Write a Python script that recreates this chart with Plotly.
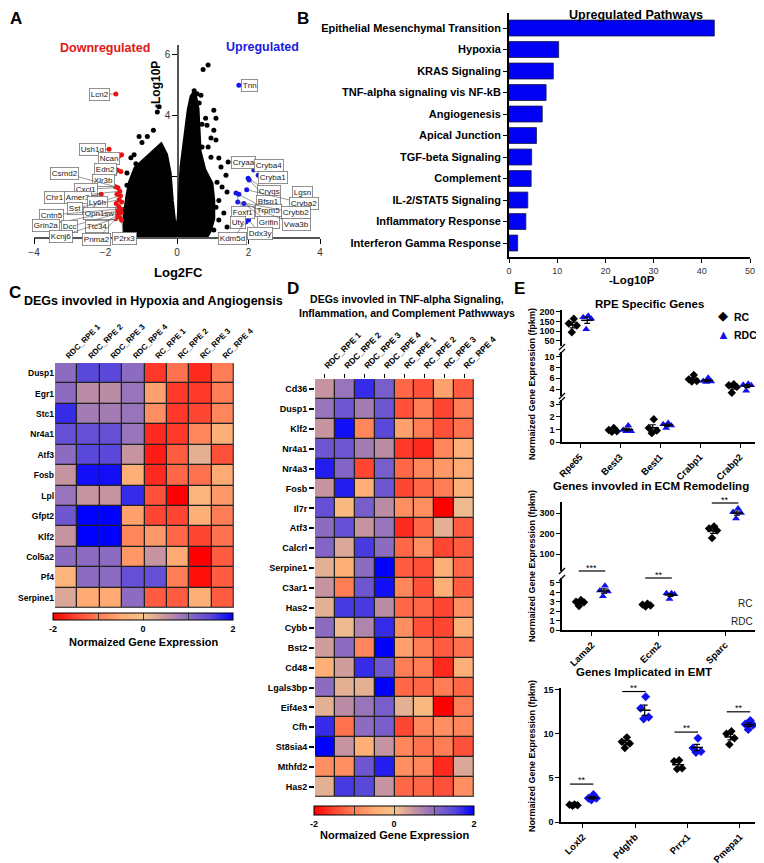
import numpy as np
import plotly.graph_objects as go

# page offset of the plot div inside the browser page (default body margin)
OFF = 8
W, H = 764 - OFF, 863 - OFF
FONT = "Liberation Sans, Arial, Helvetica, sans-serif"


def fx(p):
    return (p - OFF) / W


def fy(p):
    return 1 - (p - OFF) / H


# ---------------- Panel A : volcano ----------------
cloud_log2fc = [-1.45, -1.45, -1.38, -1.30, -1.15, -0.90, -0.60, -0.45, -0.32, -0.22, -0.16, -0.08, 0.00,
                0.06, 0.14, 0.25, 0.34, 0.42, 0.48, 0.56, 0.60, 0.62, 0.75, 0.95, 1.00, 1.00, 0.90, 0.80]
cloud_log10p = [0.00, 0.70, 1.30, 1.80, 2.25, 2.50, 2.80, 3.00, 2.70, 2.10, 1.20, 0.35, 0.15,
                0.60, 2.30, 3.40, 4.15, 4.60, 4.70, 4.20, 3.40, 2.80, 2.20, 1.75, 1.20, 0.60, 0.20, 0.00]
ns_log2fc = [-0.55, -0.50, -0.66, -0.83, -1.06, -0.98, -1.29, -1.15, -1.40, -1.40, -1.30, -1.48, -1.20,
             0.73, 0.87, 0.48, 0.56, 0.67, 0.53, 1.03, 1.09, 0.84, 1.03, 0.95, 1.09, 0.70, 0.95, 1.17,
             1.23, 1.43, 1.37, 1.12, 1.26, 1.40, 1.17, 1.09, 1.31, 1.17, 1.40, 1.03, 0.80, 0.70, 0.62, 0.87]
ns_log10p = [4.10, 4.27, 3.50, 3.30, 3.30, 3.10, 2.60, 2.40, 2.10, 1.70, 1.20, 0.90, 2.70,
             5.50, 5.64, 4.80, 4.70, 4.65, 4.43, 4.16, 3.90, 3.67, 3.50, 3.25, 3.18, 2.95, 2.62, 2.59,
             2.30, 2.46, 2.03, 1.80, 1.64, 1.48, 1.20, 0.98, 0.79, 0.56, 0.33, 0.23, 3.90, 3.70, 4.40, 2.95]
down_log2fc = [-1.71, -1.90, -1.55, -1.62, -1.67, -1.57, -2.12, -1.72, -1.65, -1.60, -1.68, -1.58,
               -1.62, -1.55, -1.70, -1.63, -1.58, -1.68, -1.56, -1.65, -1.60, -1.72, -1.55]
down_log10p = [4.69, 2.88, 2.70, 2.66, 2.20, 2.15, 1.40, 1.65, 1.62, 1.50, 1.40, 1.35,
               1.22, 1.15, 1.10, 1.00, 0.92, 0.85, 0.80, 0.72, 0.65, 0.60, 0.55]
up_log2fc = [1.73, 2.15, 2.27, 1.99, 2.02, 1.95, 3.30, 1.65, 1.73, 1.70, 1.87, 2.00, 1.93, 1.88]
up_log10p = [4.98, 2.20, 2.03, 1.93, 1.87, 1.55, 1.31, 1.44, 1.40, 1.15, 1.10, 0.56, 0.50, 0.47]

# gene label: (name, group, index of the labelled point)
vol_genes = [("Lcn2", "down", 0), ("Ush1g", "down", 1), ("Ncan", "down", 3), ("Edn2", "down", 4),
             ("Xlr3b", "down", 5), ("Csmd2", "down", 7), ("Cxcl1", "down", 8), ("Chr1", "down", 9),
             ("Amer3", "down", 6), ("Ly6h", "down", 11), ("Sst", "down", 12), ("Opn1sw", "down", 15),
             ("Cntn5", "down", 16), ("Grin2a", "down", 17), ("Dcc", "down", 18), ("Ttc34", "down", 19),
             ("Kcnj6", "down", 20), ("Pnma2", "down", 21), ("P2rx3", "down", 22),
             ("Tnn", "up", 0), ("Cryaa", "ns", 29), ("Cryba4", "up", 1), ("Cryba1", "up", 2),
             ("Crygs", "up", 3), ("Bfsp1", "up", 4), ("Lgsn", "up", 6), ("Cryba2", "up", 5),
             ("Foxf1", "up", 7), ("Trpm5", "up", 8), ("Crybb2", "up", 9), ("Grifin", "up", 10),
             ("Vwa3b", "up", 10), ("Uty", "up", 13), ("Ddx3y", "up", 11), ("Kdm5d", "up", 12)]
# where each label box sits (layout only)
vol_label_pos = [(-2.18, 4.69), (-2.37, 2.88), (-1.90, 2.56), (-2.01, 2.20), (-2.05, 1.87), (-3.16, 2.10),
                 (-2.55, 1.57), (-3.44, 1.28), (-2.77, 1.28), (-2.21, 1.14), (-2.85, 0.95), (-2.18, 0.76),
                 (-3.52, 0.72), (-3.66, 0.39), (-3.02, 0.33), (-2.24, 0.36), (-3.25, 0.03), (-2.24, -0.09),
                 (-1.48, -0.05),
                 (2.04, 4.98), (1.85, 2.46), (2.57, 2.33), (2.69, 1.94), (2.57, 1.48), (2.57, 1.18),
                 (3.50, 1.47), (3.55, 1.10), (1.85, 0.82), (2.57, 0.86), (3.33, 0.80), (2.57, 0.48),
                 (3.33, 0.40), (1.70, 0.46), (2.32, 0.13), (1.55, -0.06)]

# ---------------- Panel B : pathways ----------------
pathways = ["Epithelial Mesenchymal Transition", "Hypoxia", "KRAS Signaling", "TNF-alpha signaling vis NF-kB",
            "Angiogenesis", "Apical Junction", "TGF-beta Signaling", "Complement", "IL-2/STAT5 Signaling",
            "Inflammatory Response", "Interferon Gamma Response"]
pathway_log10p = [42.6, 10.3, 9.2, 7.7, 6.9, 5.7, 4.7, 4.6, 3.9, 3.5, 1.8]

# ---------------- Panel C : heatmap ----------------
samples = ["RDC_RPE 1", "RDC_RPE 2", "RDC_RPE 3", "RDC_RPE 4", "RC_RPE 1", "RC_RPE 2", "RC_RPE 3", "RC_RPE 4"]
c_genes = ["Dusp1", "Egr1", "Stc1", "Nr4a1", "Atf3", "Fosb", "Lpl", "Gfpt2", "Klf2", "Col5a2", "Pf4", "Serpine1"]
c_values = [
    [1.0, 1.5, 1.5, 1.0, -1.6, -1.1, -1.7, -1.0],
    [1.0, 0.6, 0.6, 0.9, -0.6, -1.6, -1.6, -1.0],
    [1.7, 0.8, 0.8, 0.9, -0.8, -1.6, -1.5, -0.9],
    [1.4, 1.4, 1.4, 0.9, -1.7, -1.6, -0.9, -0.4],
    [1.0, 1.5, 1.5, 0.5, -1.8, -1.3, 0.2, -1.4],
    [0.5, 1.9, 1.9, -0.4, -1.7, -1.2, -1.1, -0.5],
    [0.9, 0.5, 0.5, 1.7, -1.4, -2.0, -0.3, -0.7],
    [1.3, 2.0, 2.0, -0.6, -1.5, -1.5, -0.4, -1.0],
    [0.5, 2.0, 2.0, -0.9, -0.7, -1.2, -1.5, -1.1],
    [1.0, 1.0, 1.0, -0.7, 0.5, -0.5, -2.0, -1.3],
    [-0.3, 1.0, 1.0, 1.4, 1.4, -1.0, -1.9, -1.3],
    [0.3, -0.5, -0.5, 1.0, -1.3, -1.3, -0.4, -1.3],
]

# ---------------- Panel D : heatmap ----------------
d_genes = ["Cd36", "Dusp1", "Klf2", "Nr4a1", "Nr4a3", "Fosb", "Il7r", "Atf3", "Calcrl", "Serpine1", "C3ar1",
           "Has2", "Cybb", "Bst2", "Cd48", "Lgals3bp", "Eif4e3", "Cfh", "St8sia4", "Mthfd2", "Has2"]
d_values = [
    [0.5, 0.9, 1.7, 1.2, -1.2, -1.4, -0.6, -1.3],
    [0.9, 1.3, 0.8, 1.3, -1.4, -1.0, -1.5, -1.0],
    [0.5, 1.9, -0.9, 1.5, -0.6, -1.0, -1.4, -1.1],
    [1.3, 1.3, 0.8, 0.6, -1.6, -1.7, -0.9, -0.4],
    [1.8, 1.1, -1.5, 1.2, -1.2, -0.9, -0.7, -0.5],
    [0.5, 1.8, -0.4, 1.3, -1.5, -1.2, -1.0, -0.4],
    [1.4, -0.2, 1.2, 0.6, -0.8, -0.8, -2.0, 0.1],
    [1.0, 1.4, 0.5, 0.9, -1.7, -1.2, 0.2, -1.3],
    [1.1, 0.3, 1.6, 1.0, -1.2, -0.8, -1.5, -1.3],
    [0.2, -0.4, 1.0, 2.0, -1.3, -1.4, -0.4, -1.2],
    [0.5, -1.0, 1.3, 1.9, -0.9, -1.4, -0.4, -1.3],
    [0.2, 1.6, 1.6, 0.6, -1.2, -1.2, -1.5, -0.8],
    [1.0, 0.1, 0.7, 1.7, -0.8, -1.4, -1.5, -0.4],
    [0.4, 1.0, -0.9, 2.0, -0.6, -1.0, -1.3, -1.1],
    [-0.4, 0.4, 1.7, 1.3, -1.0, -1.0, -1.7, -0.4],
    [1.0, 0.2, 0.2, 2.0, -1.2, -1.2, -1.0, -1.2],
    [0.2, 0.6, 0.9, 1.2, 0.2, -0.2, -2.0, -1.0],
    [1.7, -1.1, 1.0, 1.2, -1.5, -0.9, -0.8, -0.9],
    [2.0, 0.5, -0.4, 0.5, -0.9, -1.1, -1.0, -1.4],
    [-0.8, -0.8, 1.3, 1.8, -0.8, -0.9, -1.7, 0.3],
    [0.2, 1.6, 1.5, 0.5, -1.2, -1.2, -1.4, -0.8],
]

# ---------------- Panel E : gene expression (fpkm) ----------------
e1_genes = ["Rpe65", "Best3", "Best1", "Crabp1", "Crabp2"]
e1_rc = [[165, 140, 130, 95], [1.10, 0.95, 0.85, 0.80], [1.80, 1.10, 0.90, 0.70],
         [6.60, 5.80, 5.50, 5.40], [4.90, 4.70, 4.40, 3.30]]
e1_rdc = [[180, 172, 165, 110], [1.30, 0.95, 0.85, 0.85], [1.50, 1.40, 1.30, 1.10],
          [6.10, 5.50, 5.30, 5.40], [5.00, 4.80, 4.70, 3.70]]
e2_genes = ["Lama2", "Ecm2", "Sparc"]
e2_rc = [[3.20, 3.00, 2.95, 2.55], [2.80, 2.70, 2.60, 2.50], [235, 225, 215, 178]]
e2_rdc = [[4.70, 4.20, 4.10, 3.60], [3.90, 3.90, 3.80, 3.30], [322, 305, 300, 273]]
e2_sig = ["***", "**", "**"]
e3_genes = ["Loxl2", "Pdgfrb", "Prrx1", "Pmepa1"]
e3_rc = [[2.00, 1.95, 1.90, 1.85], [9.60, 9.10, 8.90, 8.40], [7.00, 6.90, 6.10, 6.00], [10.3, 10.0, 9.5, 8.8]]
e3_rdc = [[3.10, 2.70, 2.70, 2.50], [14.2, 12.9, 11.9, 11.7], [9.50, 8.40, 8.00, 7.90], [11.5, 11.1, 11.0, 10.5]]
e3_sig = ["**", "**", "**", "**"]

# ---------------- figure ----------------
fig = go.Figure()
ann = []
shapes = []


def txt(xp, yp, text, size, color="black", bold=True, xanchor="center", yanchor="middle", angle=0):
    ann.append(dict(x=fx(xp), y=fy(yp), xref="paper", yref="paper", xanchor=xanchor, yanchor=yanchor,
                    text=("<b>%s</b>" % text) if bold else text, showarrow=False, textangle=angle,
                    font=dict(size=size, color=color, family=FONT)))


# ---- A ----
fig.add_trace(go.Scatter(x=cloud_log2fc, y=cloud_log10p, mode="lines", fill="toself", fillcolor="black",
                         line=dict(color="black", width=5), hoverinfo="skip", showlegend=False,
                         xaxis="x", yaxis="y"))
fig.add_trace(go.Scatter(x=ns_log2fc, y=ns_log10p, mode="markers", marker=dict(color="black", size=5),
                         showlegend=False, xaxis="x", yaxis="y", cliponaxis=False))
fig.add_trace(go.Scatter(x=down_log2fc, y=down_log10p, mode="markers", marker=dict(color="#ee1111", size=5),
                         showlegend=False, xaxis="x", yaxis="y", cliponaxis=False))
fig.add_trace(go.Scatter(x=up_log2fc, y=up_log10p, mode="markers", marker=dict(color="#1515ee", size=5),
                         showlegend=False, xaxis="x", yaxis="y", cliponaxis=False))
groups = {"down": (down_log2fc, down_log10p), "up": (up_log2fc, up_log10p), "ns": (ns_log2fc, ns_log10p)}
for (name, g, i), (tx, ty) in zip(vol_genes, vol_label_pos):
    gx, gy = groups[g]
    ann.append(dict(x=gx[i], y=gy[i], xref="x", yref="y", ax=tx, ay=ty, axref="x", ayref="y",
                    text=name, showarrow=True, arrowhead=0, arrowwidth=0.6, arrowcolor="#555",
                    standoff=2, font=dict(size=8, color="#222", family=FONT), bgcolor="white",
                    bordercolor="#777", borderwidth=0.8, borderpad=1))

txt(105, 48, "Downregulated", 12.5, "#e01818")
txt(262, 47, "Upregulated", 12.5, "#1a1ae0")
txt(156, 85, "-Log10P", 12, angle=-90)
txt(178, 272, "Log2FC", 13)

# ---- B ----
fig.add_trace(go.Bar(x=pathway_log10p, y=list(range(len(pathways))), orientation="h", width=0.74,
                     marker=dict(color="#0000f5", line=dict(color="#1a1a40", width=0.8)),
                     showlegend=False, xaxis="x2", yaxis="y2"))
txt(636, 15, "Upregulated Pathways", 12.5)
txt(632, 280, "-Log10P", 11.5)

# ---- heatmap colours ----
cscale = [[0.0, "rgb(255,0,0)"], [0.125, "rgb(255,70,50)"], [0.25, "rgb(255,125,85)"],
          [0.375, "rgb(255,170,115)"], [0.5, "rgb(248,195,140)"], [0.625, "rgb(198,148,160)"],
          [0.75, "rgb(140,108,192)"], [0.875, "rgb(90,72,218)"], [1.0, "rgb(0,0,255)"]]


def heat(zv, genes, xa, ya, cb_center, cb_top, cb_len, cb_thick):
    n = len(genes)
    shapes.append(dict(type="rect", xref=xa, yref=ya, x0=-0.5, x1=len(samples) - 0.5, y0=-0.5, y1=n - 0.5,
                       fillcolor="#222", line=dict(color="#777", width=1), layer="below"))
    fig.add_trace(go.Heatmap(z=zv, x=list(range(len(samples))), y=list(range(n)), colorscale=cscale,
                             zmin=-2, zmax=2, xgap=1.3, ygap=1.3, xaxis=xa, yaxis=ya,
                             colorbar=dict(orientation="h", x=fx(cb_center), xanchor="center",
                                           y=fy(cb_top), yanchor="top", len=cb_len, lenmode="pixels",
                                           thickness=cb_thick, thicknessmode="pixels", xpad=0, ypad=0,
                                           outlinewidth=1, outlinecolor="black",
                                           tickvals=[-2, -1, 0, 1, 2], ticktext=["-2", "", "0", "", "2"],
                                           ticks="inside", ticklen=cb_thick, tickcolor="#333",
                                           tickfont=dict(size=9, family=FONT, weight="bold", color="black"))))


heat(c_values, c_genes, "x3", "y3", 143, 613, 180, 7)
heat(d_values, d_genes, "x4", "y4", 394, 806, 160, 9)
txt(22, 301, "DEGs invovled in Hypoxia and Angiogensis", 12.5, xanchor="left")
txt(143, 642, "Normaized Gene Expression", 11)
txt(407, 306, "DEGs invovled in TNF-alpha Signaling,<br>Inflammation, and Complement Pathwways", 10.5)
txt(394, 835, "Normaized Gene Expression", 11)

# ---- E ----
jit_px = [1, -4, 4, -1]
grp_off = 0.18


def add_dots(xa, ya, idx, rc, rdc, spacing, rdc_symbol):
    for vals, off, color, sym, size, name in ((rc, -grp_off, "black", "diamond", 6.5, "RC"),
                                                (rdc, grp_off, "#1010f0", rdc_symbol, 7, "RDC")):
        xs, ys, mx, my, se = [], [], [], [], []
        for k, v in zip(idx, vals):
            order = np.argsort(v)[::-1]
            for j, o in enumerate(order):
                xs.append(k + off + jit_px[j] / spacing)
                ys.append(v[o])
            mx.append(k + off)
            my.append(float(np.mean(v)))
            se.append(float(np.std(v, ddof=1) / np.sqrt(len(v))))
        fig.add_trace(go.Scatter(x=xs, y=ys, mode="markers", name=name, showlegend=False,
                                 marker=dict(color=color, symbol=sym, size=size), cliponaxis=False,
                                 xaxis=xa, yaxis=ya))
        fig.add_trace(go.Scatter(x=mx, y=my, mode="markers", marker=dict(size=0.1, color="black"),
                                 error_y=dict(type="data", array=se, width=3, thickness=1.2, color="black"),
                                 showlegend=False, cliponaxis=False, xaxis=xa, yaxis=ya))
        hw = 6 / spacing
        lx, ly = [], []
        for a, b in zip(mx, my):
            lx += [a - hw, a + hw, None]
            ly += [b, b, None]
        fig.add_trace(go.Scatter(x=lx, y=ly, mode="lines", line=dict(color="black", width=1.5),
                                 showlegend=False, cliponaxis=False, xaxis=xa, yaxis=ya))


# E1 split over the three broken-axis segments
seg_ranges = {"y5": (24, 210), "y6": (2.7, 10.9), "y7": (0, 3.32)}
for ya, (lo, hi) in seg_ranges.items():
    idx = [i for i in range(len(e1_genes)) if lo <= np.mean(e1_rc[i]) <= hi]
    if idx:
        add_dots("x5", ya, idx, [e1_rc[i] for i in idx], [e1_rdc[i] for i in idx], 40, "triangle-up")

seg2 = {"y8": (17, 354), "y9": (0, 5.53)}
for ya, (lo, hi) in seg2.items():
    idx = [i for i in range(len(e2_genes)) if lo <= np.mean(e2_rc[i]) <= hi]
    if idx:
        add_dots("x6", ya, idx, [e2_rc[i] for i in idx], [e2_rdc[i] for i in idx], 66.5, "triangle-up")

add_dots("x7", "y10", list(range(len(e3_genes))), e3_rc, e3_rdc, 52.3, "diamond")

# significance bars
sig2_ypx = [571, 578, 503]
for i, (s, ypx) in enumerate(zip(e2_sig, sig2_ypx)):
    shapes.append(dict(type="line", xref="x6", yref="paper", x0=i - 0.2, x1=i + 0.2, y0=fy(ypx), y1=fy(ypx),
                       line=dict(color="black", width=1.2)))
    ann.append(dict(x=i, y=fy(ypx), xref="x6", yref="paper", xanchor="center", yanchor="bottom", yshift=-4,
                    text=s, showarrow=False, font=dict(size=9, color="black", family=FONT)))
sig3_y = [4.3, 14.8, 10.2, 12.5]
for i, (s, yv) in enumerate(zip(e3_sig, sig3_y)):
    shapes.append(dict(type="line", xref="x7", yref="y10", x0=i - 0.25, x1=i + 0.2, y0=yv, y1=yv,
                       line=dict(color="black", width=1.2)))
    ann.append(dict(x=i - 0.02, y=yv, xref="x7", yref="y10", xanchor="center", yanchor="bottom", yshift=-3,
                    text=s, showarrow=False, font=dict(size=9, color="black", family=FONT)))

# axis break marks
for xpx, ypx in ((562, 347), (562, 352), (562, 396), (562, 400), (562, 571), (562, 578)):
    shapes.append(dict(type="line", xref="paper", yref="paper", x0=fx(xpx - 3), x1=fx(xpx + 3),
                       y0=fy(ypx + 3), y1=fy(ypx - 3), line=dict(color="black", width=1.3)))

txt(649, 304, "RPE Specific Genes", 11.5)
txt(651, 486, "Genes invovled in ECM Remodeling", 11.5)
txt(644, 672, "Genes Implicated in EMT", 11.5)
# legend of panel E
txt(723, 316, "\u25c6", 13, "black", bold=False)
txt(723, 334, "\u25b2", 13, "#1010f0", bold=False)
txt(732, 317, "RC", 10.5, xanchor="left")
txt(732, 335, "RDC", 10.5, xanchor="left")
txt(754, 603, "RC", 10, "#222", bold=False, xanchor="right")
txt(755, 621, "RDC", 10, "#222", bold=False, xanchor="right")
for ycen in (384, 566, 756):
    txt(532, ycen, "Normaized Gene Expression (fpkm)", 9, angle=-90)

# panel letters
for letter, xp, yp in (("A", 16, 18), ("B", 303, 18), ("C", 15, 292), ("D", 293, 288), ("E", 519, 288)):
    txt(xp, yp, letter, 17)

# ---------------- axes ----------------
bold9 = dict(size=9, family=FONT, weight="bold", color="black")
ax_common = dict(showgrid=False, zeroline=False, linecolor="black", tickcolor="black")
ax_nolc = dict(showgrid=False, zeroline=False, tickcolor="black")


def ecat_x(domain, rng, labels, anchor):
    return dict(domain=domain, range=rng, anchor=anchor, tickvals=list(range(len(labels))), ticktext=labels,
                tickangle=-45, ticks="outside", ticklen=4, tickwidth=1.3, showline=True, linewidth=1.5,
                tickfont=dict(size=9.5, family=FONT, weight="bold", color="black"), **ax_common)


def e_y(domain, rng, tv, anchor="x5"):
    return dict(domain=domain, range=rng, anchor=anchor, tickvals=tv, ticks="outside", ticklen=4,
                tickwidth=1.3, showline=True, linewidth=1.5, tickfont=bold9, **ax_common)


layout = dict(
    width=W, height=H, margin=dict(l=0, r=0, t=0, b=0, autoexpand=False), paper_bgcolor="white",
    plot_bgcolor="rgba(0,0,0,0)",
    font=dict(family=FONT, size=9, color="black"),
    showlegend=False,
    xaxis=dict(domain=[fx(34), fx(320)], range=[-4, 4], anchor="y", tickvals=[-4, -2, 0, 2, 4],
               ticks="outside", ticklen=5, tickwidth=1.3, showline=True, linewidth=1.5, linecolor="#555",
               tickfont=dict(size=10, family=FONT, color="#333"), **ax_nolc),
    yaxis=dict(domain=[fy(237), fy(45)], range=[0, 6.3], anchor="free", position=fx(178), tickvals=[2, 4, 6],
               ticks="outside", ticklen=5, tickwidth=1.3, showline=True, linewidth=1.5, linecolor="#555",
               layer="below traces", tickfont=dict(size=10, family=FONT, color="#333"), **ax_nolc),
    xaxis2=dict(domain=[fx(509), fx(750)], range=[0, 50], anchor="y2", tickvals=[0, 10, 20, 30, 40, 50],
                ticks="outside", ticklen=4, tickwidth=1.3, showline=True, linewidth=1.8,
                tickfont=dict(size=9, family=FONT, color="#333"), **ax_common),
    yaxis2=dict(domain=[fy(257), fy(13)], range=[10.65, -0.7], anchor="x2",
                tickvals=list(range(len(pathways))), ticktext=pathways, ticks="outside", ticklen=4,
                tickwidth=1.3, showline=True, linewidth=1.8,
                tickfont=dict(size=11, family=FONT, weight="bold", color="black"), **ax_common),
    xaxis3=dict(domain=[fx(55), fx(234)], range=[-0.5, 7.5], anchor="y3", side="top",
                tickvals=list(range(len(samples))), ticktext=samples, tickangle=-45, ticks="",
                showline=False, tickfont=dict(size=8, family=FONT, weight="bold", color="black"), **ax_common),
    yaxis3=dict(domain=[fy(608), fy(363)], range=[len(c_genes) - 0.5, -0.5], anchor="x3",
                tickvals=list(range(len(c_genes))), ticktext=c_genes, ticks="", showline=False,
                tickfont=dict(size=8.5, family=FONT, weight="bold", color="black"), **ax_common),
    xaxis4=dict(domain=[fx(315), fx(474)], range=[-0.5, 7.5], anchor="y4", side="top",
                tickvals=list(range(len(samples))), ticktext=samples, tickangle=-45, ticks="outside",
                ticklen=4, tickwidth=1.3, showline=False,
                tickfont=dict(size=8.5, family=FONT, weight="bold", color="black"), **ax_common),
    yaxis4=dict(domain=[fy(797), fy(379)], range=[len(d_genes) - 0.5, -0.5], anchor="x4",
                tickvals=list(range(len(d_genes))), ticktext=d_genes, ticks="outside", ticklen=5,
                tickwidth=1.5, showline=False,
                tickfont=dict(size=9, family=FONT, weight="bold", color="black"), **ax_common),
    xaxis5=ecat_x([fx(562), fx(755)], [-0.45, 4.375], e1_genes, "y7"),
    yaxis5=e_y([fy(346), fy(310)], [24, 210], [50, 100, 150, 200]),
    yaxis6=e_y([fy(396), fy(352)], [2.7, 10.9], [4, 6, 8, 10]),
    yaxis7=e_y([fy(442), fy(400)], [0, 3.32], [0, 1, 2, 3]),
    xaxis6=ecat_x([fx(562), fx(755)], [-0.45, 2.45], e2_genes, "y9"),
    yaxis8=e_y([fy(571), fy(502)], [17, 354], [100, 200, 300], "x6"),
    yaxis9=e_y([fy(630), fy(578)], [0, 5.53], [0, 1, 2, 3, 4, 5], "x6"),
    xaxis7=ecat_x([fx(561), fx(755)], [-0.42, 3.29], e3_genes, "y10"),
    yaxis10=e_y([fy(822), fy(688)], [0, 15.2], [0, 5, 10, 15], "x7"),
    annotations=ann,
    shapes=shapes,
)
fig.update_layout(**layout)
fig.write_html("out.html")
